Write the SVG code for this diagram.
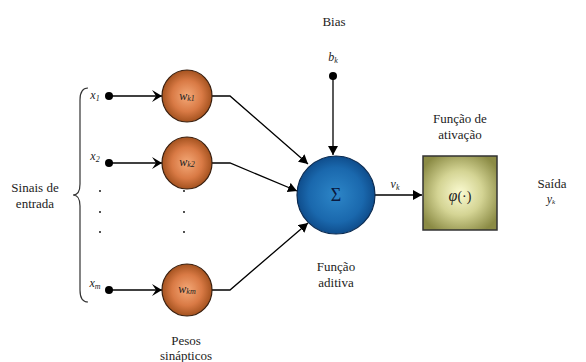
<svg xmlns="http://www.w3.org/2000/svg" width="586" height="362" viewBox="0 0 586 362" font-family="'Liberation Serif', 'DejaVu Serif', 'Times New Roman', serif">
<defs>
<radialGradient id="brown" cx="0.5" cy="0.5" r="0.5">
<stop offset="0" stop-color="#f4a978"/>
<stop offset="0.6" stop-color="#d97a45"/>
<stop offset="1" stop-color="#a4521f"/>
</radialGradient>
<radialGradient id="blue" cx="0.5" cy="0.5" r="0.5">
<stop offset="0" stop-color="#2d86c8"/>
<stop offset="0.7" stop-color="#1a68ad"/>
<stop offset="1" stop-color="#0f4d8c"/>
</radialGradient>
<radialGradient id="olive" cx="0.5" cy="0.5" r="0.6">
<stop offset="0" stop-color="#fbfbd2"/>
<stop offset="0.5" stop-color="#d4d494"/>
<stop offset="1" stop-color="#8b8b45"/>
</radialGradient>
<marker id="chev" markerWidth="12" markerHeight="12" refX="10" refY="6" orient="auto" markerUnits="userSpaceOnUse">
<path d="M0,0 L10,6 L0,12 L4,6 Z" fill="#000"/>
</marker>
<marker id="tri" markerWidth="10" markerHeight="10" refX="9" refY="5" orient="auto" markerUnits="userSpaceOnUse">
<path d="M0,0 L9,5 L0,10 Z" fill="#000"/>
</marker>
</defs>
<style>
text{font-family:'Liberation Serif','DejaVu Serif','Times New Roman',serif;fill:#222;}
.lbl{font-size:13px;text-anchor:middle;}
.it{font-style:italic;font-size:12px;text-anchor:middle;}
.ln{stroke:#000;stroke-width:1.3;fill:none;}
.dot{fill:#000;}
.w{stroke:#3a2010;stroke-width:1.2;fill:url(#brown);}
</style>
<g id="connectors">
<line class="ln" x1="109" y1="96" x2="162" y2="96" marker-end="url(#chev)"/>
<line class="ln" x1="109" y1="163" x2="162" y2="163" marker-end="url(#chev)"/>
<line class="ln" x1="109" y1="290" x2="162" y2="290" marker-end="url(#chev)"/>
<polyline class="ln" points="212,96 230,96 308,164" marker-end="url(#tri)"/>
<polyline class="ln" points="212,163 230,163 297,191" marker-end="url(#tri)"/>
<polyline class="ln" points="212,290 230,290 308,223" marker-end="url(#tri)"/>
<line class="ln" x1="333" y1="76" x2="333" y2="155" marker-end="url(#tri)"/>
<line class="ln" x1="375" y1="195" x2="422" y2="195" marker-end="url(#tri)"/>
</g>
<g id="inputs">
<path d="M88,88 Q80,88 80,100 L80,184 Q80,195 73,195 Q80,195 80,206 L80,290 Q80,302 88,302" stroke="#333" stroke-width="1.2" fill="none"/>
<text class="lbl" x="35" y="192">Sinais de</text>
<text class="lbl" x="35" y="208">entrada</text>
<text class="it" x="95" y="99">x<tspan font-size="8" dy="2">1</tspan></text>
<text class="it" x="95" y="160">x<tspan font-size="8" dy="2">2</tspan></text>
<text class="it" x="95" y="287">x<tspan font-size="8" dy="2">m</tspan></text>
<circle class="dot" cx="109" cy="96" r="4"/>
<circle class="dot" cx="109" cy="163" r="4"/>
<circle class="dot" cx="109" cy="290" r="4"/>
<circle class="dot" cx="100" cy="191" r="0.9"/>
<circle class="dot" cx="100" cy="212" r="0.9"/>
<circle class="dot" cx="100" cy="232" r="0.9"/>
<circle class="dot" cx="184" cy="191" r="0.9"/>
<circle class="dot" cx="184" cy="212" r="0.9"/>
<circle class="dot" cx="184" cy="232" r="0.9"/>
</g>
<g id="w1">
<ellipse class="w" cx="187" cy="96" rx="25" ry="26"/>
<text class="it" x="187" y="100" font-size="11">w<tspan font-size="8" dy="1">k1</tspan></text>
</g>
<g id="w2">
<ellipse class="w" cx="187" cy="163" rx="25" ry="26"/>
<text class="it" x="187" y="166" font-size="11">w<tspan font-size="8" dy="1">k2</tspan></text>
</g>
<g id="wm">
<ellipse class="w" cx="187" cy="290" rx="25" ry="26"/>
<text class="it" x="187" y="293" font-size="11">w<tspan font-size="8" dy="1">km</tspan></text>
</g>
<text class="lbl" x="186" y="345">Pesos</text>
<text class="lbl" x="186" y="360">sinápticos</text>
<g id="bias">
<text class="lbl" x="334" y="26">Bias</text>
<text class="it" x="333" y="61">b<tspan font-size="8" dy="2">k</tspan></text>
<circle class="dot" cx="333" cy="76" r="4"/>
</g>
<g id="sum">
<circle cx="336" cy="195" r="39" fill="url(#blue)" stroke="#0a2a50" stroke-width="1.2"/>
<text x="336" y="201" font-size="18" text-anchor="middle" style="fill:#0a1a40">Σ</text>
<text class="lbl" x="336" y="271">Função</text>
<text class="lbl" x="336" y="287">aditiva</text>
<text class="it" x="395" y="188">v<tspan font-size="8" dy="2">k</tspan></text>
</g>
<g id="activation">
<text class="lbl" x="460" y="123">Função de</text>
<text class="lbl" x="460" y="139">ativação</text>
<rect x="423" y="156" width="74" height="74" fill="url(#olive)" stroke="#333" stroke-width="1.5"/>
<text x="460" y="201" font-size="16" text-anchor="middle" font-style="italic">φ<tspan font-style="normal" font-size="14">(·)</tspan></text>
</g>
<g id="output">
<text class="lbl" x="552" y="188">Saída</text>
<text class="it" x="551" y="203" font-size="10">y<tspan font-size="7" dy="1">k</tspan></text>
</g>
</svg>
